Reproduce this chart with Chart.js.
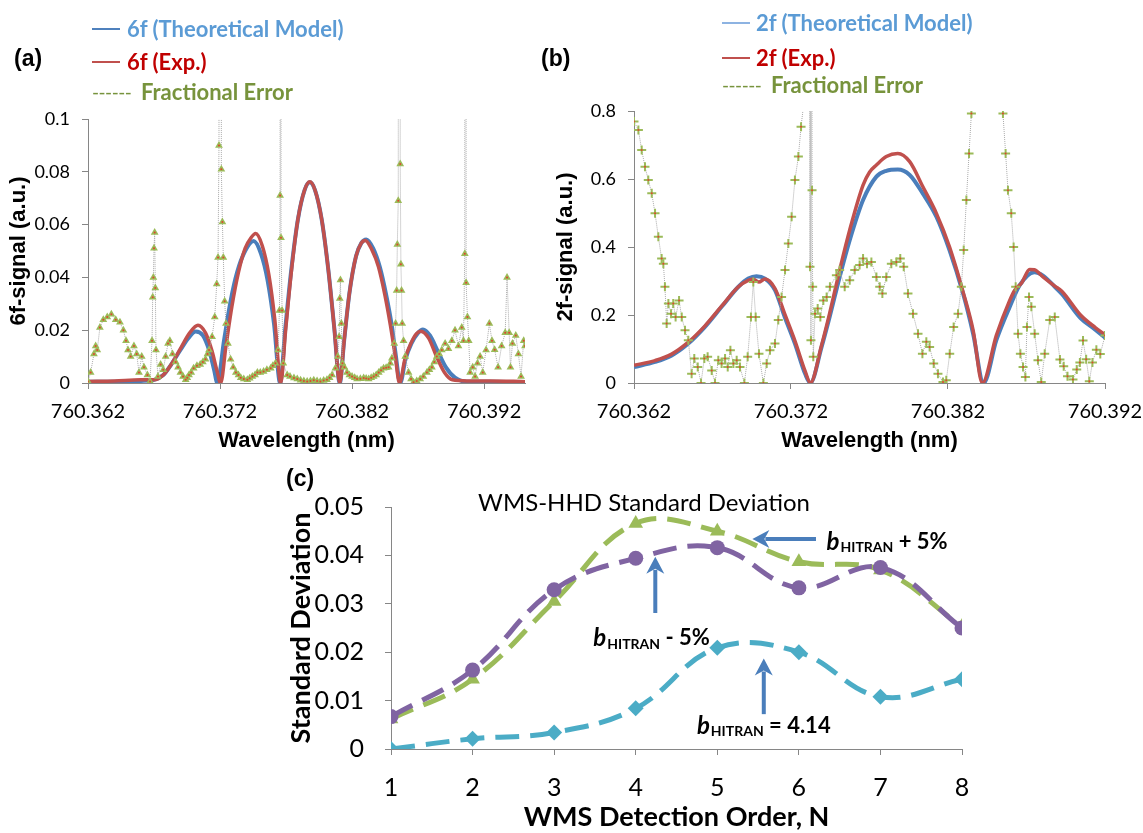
<!DOCTYPE html>
<html>
<head>
<meta charset="utf-8">
<script src="https://cdn.jsdelivr.net/npm/chart.js@4.4.1/dist/chart.umd.min.js"></script>
<style>
  body { margin: 0; background: #fff; width: 1143px; height: 833px; position: relative; overflow: hidden; font-family: Lato, sans-serif; }
  canvas { position: absolute; }
  .txt { position: absolute; white-space: nowrap; line-height: 24px; height: 24px; }
  .tag { font: bold 23px "Liberation Sans", Arial, sans-serif; color: #000; }
  .leg { font-weight: bold; font-size: 22px; }
  .dash { font-size: 19px; font-weight: normal; letter-spacing: -0.5px; }
  .swatch { position: absolute; height: 0; }
</style>
</head>
<body>
<canvas id="chartA" width="545" height="460" style="left:0;top:0"></canvas>
<canvas id="chartB" width="610" height="460" style="left:545px;top:0"></canvas>
<canvas id="chartC" width="740" height="378" style="left:270px;top:455px"></canvas>

<div class="txt tag" style="left:14px;top:45px">(a)</div>
<div class="swatch" style="left:92px;top:28px;width:28px;border-top:2.5px solid #4f81bd"></div>
<div class="txt leg" style="left:127px;top:17px;color:#5b9bd5">6f (Theoretical Model)</div>
<div class="swatch" style="left:92px;top:61px;width:28px;border-top:2.5px solid #c0504d"></div>
<div class="txt leg" style="left:127px;top:50px;color:#c00000">6f (Exp.)</div>
<div class="txt leg dash" style="left:92px;top:80px;color:#77933c">------</div>
<div class="txt leg" style="left:141px;top:80px;color:#77933c">Fractional Error</div>

<div class="txt tag" style="left:541px;top:45px">(b)</div>
<div class="swatch" style="left:722px;top:22px;width:28px;border-top:2px solid #8db3e2"></div>
<div class="txt leg" style="left:756px;top:11px;color:#5b9bd5">2f (Theoretical Model)</div>
<div class="swatch" style="left:722px;top:57px;width:28px;border-top:2.5px solid #c0504d"></div>
<div class="txt leg" style="left:756px;top:46px;color:#c00000">2f (Exp.)</div>
<div class="txt leg dash" style="left:722px;top:73px;color:#77933c">------</div>
<div class="txt leg" style="left:771px;top:73px;color:#77933c">Fractional Error</div>

<div class="txt tag" style="left:286px;top:465px">(c)</div>

<script>
// wavelength tick labels shared by panels (a) and (b)
const wavelengthTicks = [760.362, 760.372, 760.382, 760.392];

// panel (a): 6f signal, [wavelength nm, signal]
const theory6f = [
  [760.36200, 0.0005], [760.36400, 0.0005], [760.36600, 0.0008], [760.36700, 0.0012], [760.36770, 0.003],
  [760.36830, 0.007], [760.36900, 0.0125], [760.36960, 0.017], [760.37016, 0.0195], [760.37070, 0.018],
  [760.37120, 0.012], [760.37155, 0.005], [760.37180, 0],
  [760.37230, 0.016], [760.37280, 0.031], [760.37330, 0.042], [760.37390, 0.050], [760.37455, 0.0538],
  [760.37510, 0.049], [760.37560, 0.039], [760.37610, 0.022], [760.37655, 0],
  [760.37695, 0.021], [760.37740, 0.043], [760.37790, 0.062], [760.37840, 0.073], [760.37880, 0.076],
  [760.37920, 0.073], [760.37970, 0.062], [760.38020, 0.043], [760.38065, 0.021], [760.38107, 0],
  [760.38140, 0.016], [760.38180, 0.034], [760.38230, 0.048], [760.38270, 0.053], [760.38308, 0.0544],
  [760.38360, 0.051], [760.38410, 0.044], [760.38460, 0.033], [760.38500, 0.022], [760.38530, 0.011], [760.38565, 0],
  [760.38605, 0.009], [760.38650, 0.015], [760.38700, 0.019], [760.38737, 0.0203], [760.38790, 0.018],
  [760.38850, 0.012], [760.38910, 0.006], [760.38980, 0.002], [760.39070, 0.0005], [760.39250, 0.0005], [760.39510, 0.0003]
];
const exp6f = [
  [760.36200, 0.0006], [760.36400, 0.0008], [760.36600, 0.0012], [760.36700, 0.0012], [760.36770, 0.003],
  [760.36830, 0.007], [760.36900, 0.013], [760.36970, 0.019], [760.37033, 0.0219], [760.37090, 0.019],
  [760.37140, 0.012], [760.37175, 0.005], [760.37205, 0],
  [760.37245, 0.014], [760.37290, 0.029], [760.37340, 0.042], [760.37390, 0.051], [760.37435, 0.055],
  [760.37470, 0.0566], [760.37520, 0.052], [760.37570, 0.041], [760.37615, 0.024], [760.37660, 0],
  [760.37697, 0.020], [760.37740, 0.042], [760.37790, 0.062], [760.37840, 0.073], [760.37880, 0.0762],
  [760.37920, 0.073], [760.37970, 0.062], [760.38020, 0.043], [760.38065, 0.021], [760.38107, 0],
  [760.38140, 0.016], [760.38180, 0.034], [760.38230, 0.048], [760.38270, 0.053], [760.38300, 0.054],
  [760.38350, 0.0505], [760.38400, 0.044], [760.38450, 0.033], [760.38490, 0.022], [760.38525, 0.011], [760.38560, 0],
  [760.38600, 0.009], [760.38645, 0.015], [760.38690, 0.0188], [760.38720, 0.0196], [760.38780, 0.017],
  [760.38840, 0.010], [760.38900, 0.004], [760.38960, 0.0012], [760.39070, 0.0008], [760.39250, 0.0008], [760.39510, 0.0005]
];
const error6f = [
  [760.36200, 0.0006], [760.36220, 0.004], [760.36245, 0.011], [760.36258, 0.014], [760.36270, 0.0125],
  [760.36290, 0.021], [760.36316, 0.024], [760.36346, 0.025], [760.36377, 0.026], [760.36410, 0.024],
  [760.36442, 0.023], [760.36468, 0.020], [760.36488, 0.016], [760.36503, 0.0125], [760.36523, 0.010],
  [760.36548, 0.014], [760.36569, 0.011], [760.36586, 0.004], [760.36607, 0.010], [760.36624, 0.006],
  [760.36650, 0.003], [760.36670, 0.0006], [760.36685, 0.016], [760.36690, 0.0325], [760.36695, 0.040],
  [760.36700, 0.051], [760.36705, 0.057], [760.36710, 0.036], [760.36715, 0.0125], [760.36730, 0.0025],
  [760.36750, 0.007], [760.36770, 0.005], [760.36788, 0.010], [760.36806, 0.015], [760.36820, 0.016],
  [760.36840, 0.011], [760.36864, 0.008], [760.36882, 0.006], [760.36900, 0.004], [760.36920, 0.0025],
  [760.36940, 0.0012], [760.36952, 0.002], [760.36965, 0.003], [760.36982, 0.004], [760.37000, 0.0056],
  [760.37025, 0.0065], [760.37050, 0.007], [760.37070, 0.008], [760.37090, 0.009], [760.37105, 0.011],
  [760.37117, 0.0125], [760.37140, 0.0175],
  [760.37160, 0.025], [760.37175, 0.0375], [760.37185, 0.0475], [760.37192, 0.090], [760.37198, 1],
  [760.37204, 1], [760.37210, 0.081], [760.37218, 0.061], [760.37225, 0.0475], [760.37235, 0.031],
  [760.37245, 0.0225], [760.37260, 0.015], [760.37280, 0.009], [760.37300, 0.006], [760.37320, 0.004],
  [760.37340, 0.003], [760.37357, 0.002], [760.37380, 0.0015], [760.37407, 0.0012], [760.37425, 0.0018],
  [760.37445, 0.0025], [760.37465, 0.003], [760.37483, 0.004], [760.37505, 0.004], [760.37530, 0.0044],
  [760.37555, 0.005], [760.37584, 0.0056], [760.37600, 0.0065],
  [760.37620, 0.0075], [760.37640, 0.0125], [760.37650, 0.0275], [760.37655, 0.071], [760.37658, 1],
  [760.37662, 0.055], [760.37670, 0.0275], [760.37679, 0.0075], [760.37709, 0.003], [760.37730, 0.0025],
  [760.37760, 0.0019], [760.37785, 0.0015], [760.37810, 0.001], [760.37835, 0.0008], [760.37860, 0.0006],
  [760.37885, 0.0008], [760.37910, 0.001], [760.37935, 0.0008], [760.37960, 0.0006], [760.37985, 0.0009],
  [760.38010, 0.0012], [760.38030, 0.002],
  [760.38049, 0.003], [760.38074, 0.0056], [760.38092, 0.010], [760.38102, 0.0175], [760.38107, 0.032],
  [760.38112, 0.039], [760.38119, 0.0225], [760.38127, 0.0075], [760.38142, 0.006], [760.38162, 0.004],
  [760.38180, 0.003], [760.38200, 0.0025], [760.38220, 0.002], [760.38238, 0.0015], [760.38263, 0.0016],
  [760.38288, 0.0019], [760.38307, 0.0017], [760.38326, 0.0015], [760.38345, 0.002], [760.38364, 0.0025],
  [760.38383, 0.003], [760.38402, 0.004], [760.38420, 0.0048], [760.38439, 0.0056], [760.38458, 0.0058],
  [760.38477, 0.006], [760.38490, 0.0075], [760.38502, 0.0094], [760.38520, 0.015],
  [760.38530, 0.0225], [760.38538, 0.035], [760.38543, 0.0525], [760.38550, 0.069], [760.38558, 1],
  [760.38565, 0.083], [760.38570, 0.045], [760.38575, 0.035], [760.38580, 0.0225], [760.38590, 0.016],
  [760.38603, 0.010], [760.38628, 0.004], [760.38647, 0.0015], [760.38666, 0.0003], [760.38690, 0.0008],
  [760.38716, 0.0015], [760.38740, 0.0025], [760.38767, 0.004], [760.38786, 0.005],
  [760.38805, 0.006], [760.38823, 0.008], [760.38842, 0.010], [760.38860, 0.011], [760.38880, 0.0125],
  [760.38905, 0.015], [760.38930, 0.013],
  [760.38956, 0.016], [760.38980, 0.020], [760.39006, 0.014], [760.39031, 0.021], [760.39044, 0.016],
  [760.39054, 0.049], [760.39059, 1], [760.39064, 0.038], [760.39074, 0.025], [760.39084, 0.016],
  [760.39094, 0.004], [760.39114, 0.006], [760.39132, 0.0025], [760.39150, 0.0075], [760.39170, 0.010],
  [760.39190, 0.004], [760.39215, 0.0125], [760.39240, 0.0225], [760.39260, 0.016], [760.39280, 0.0126],
  [760.39306, 0.006], [760.39333, 0.014], [760.39360, 0.019], [760.39374, 0.040], [760.39390, 0.019],
  [760.39400, 0.006], [760.39415, 0.015], [760.39440, 0.018], [760.39460, 0.011], [760.39480, 0.0025],
  [760.39500, 0.016], [760.39510, 0.014]
];

// panel (b): 2f signal, [wavelength nm, signal]
const theory2f = [
  [760.36200, 0.047], [760.36334, 0.062], [760.36440, 0.081], [760.36546, 0.116], [760.36652, 0.165],
  [760.36758, 0.224], [760.36865, 0.283], [760.36928, 0.307], [760.36980, 0.314], [760.37034, 0.307],
  [760.37098, 0.273], [760.37160, 0.194], [760.37225, 0.116], [760.37290, 0.027], [760.37323, 0],
  [760.37395, 0.106], [760.37446, 0.194], [760.37510, 0.312], [760.37574, 0.420], [760.37659, 0.538],
  [760.37744, 0.607], [760.37807, 0.624], [760.37880, 0.628], [760.37956, 0.612], [760.38040, 0.557],
  [760.38126, 0.489], [760.38210, 0.390], [760.38296, 0.263], [760.38360, 0.145], [760.38427, 0],
  [760.38508, 0.126], [760.38593, 0.224], [760.38657, 0.288], [760.38750, 0.326], [760.38805, 0.316],
  [760.38880, 0.283], [760.38925, 0.262], [760.39044, 0.191], [760.39138, 0.157], [760.39200, 0.133]
];
const exp2f = [
  [760.36200, 0.052], [760.36334, 0.066], [760.36440, 0.085], [760.36546, 0.120], [760.36652, 0.168],
  [760.36758, 0.226], [760.36865, 0.283], [760.36928, 0.302], [760.36960, 0.305], [760.36995, 0.297],
  [760.37035, 0.306], [760.37098, 0.278], [760.37160, 0.203], [760.37225, 0.124], [760.37290, 0.035], [760.37323, 0],
  [760.37395, 0.112], [760.37446, 0.205], [760.37510, 0.332], [760.37574, 0.450], [760.37659, 0.582],
  [760.37700, 0.620], [760.37744, 0.641], [760.37807, 0.666], [760.37880, 0.675], [760.37956, 0.651],
  [760.38040, 0.577], [760.38126, 0.499], [760.38210, 0.400], [760.38296, 0.268], [760.38360, 0.155], [760.38419, 0],
  [760.38508, 0.140], [760.38593, 0.243], [760.38625, 0.273], [760.38670, 0.295], [760.38720, 0.334],
  [760.38750, 0.333], [760.38805, 0.312], [760.38880, 0.285], [760.38925, 0.270], [760.39044, 0.200],
  [760.39138, 0.163], [760.39200, 0.142]
];
const error2f = [
  [760.36200, 0.769], [760.36228, 0.744], [760.36249, 0.685], [760.36270, 0.636], [760.36291, 0.597],
  [760.36313, 0.558], [760.36334, 0.499], [760.36355, 0.430], [760.36376, 0.366], [760.36387, 0.351],
  [760.36397, 0.283], [760.36408, 0.175], [760.36419, 0.234], [760.36436, 0.204], [760.36450, 0.234],
  [760.36465, 0.194], [760.36487, 0.243], [760.36504, 0.194], [760.36525, 0.155], [760.36546, 0.126],
  [760.36567, 0.027], [760.36584, 0.072], [760.36606, 0.047], [760.36627, 0], [760.36648, 0.072],
  [760.36669, 0.077], [760.36695, 0.037], [760.36716, 0], [760.36737, 0.067], [760.36758, 0.057],
  [760.36780, 0.072], [760.36797, 0.047], [760.36814, 0.096], [760.36833, 0.057], [760.36854, 0.067],
  [760.36875, 0.047], [760.36903, 0], [760.36924, 0.077], [760.36945, 0.194], [760.36960, 0.297],
  [760.36975, 0.194], [760.36996, 0.086], [760.37024, 0], [760.37045, 0.057], [760.37066, 0.096],
  [760.37098, 0.116], [760.37119, 0.185], [760.37140, 0.253], [760.37162, 0.332], [760.37183, 0.410],
  [760.37204, 0.489], [760.37225, 0.597], [760.37247, 0.666], [760.37264, 0.754], [760.37279, 0.813],
  [760.37295, 1.2], [760.37315, 5], [760.37321, 0.342], [760.37324, 5], [760.37327, 0.126],
  [760.37330, 5], [760.37334, 0.567], [760.37338, 0.283], [760.37342, 0.077], [760.37353, 0.204],
  [760.37370, 0.219], [760.37387, 0.194], [760.37406, 0.243], [760.37427, 0.253], [760.37448, 0.283],
  [760.37489, 0.317], [760.37510, 0.332], [760.37542, 0.283], [760.37574, 0.302], [760.37606, 0.332],
  [760.37637, 0.347], [760.37659, 0.366], [760.37684, 0.351], [760.37712, 0.356], [760.37744, 0.312],
  [760.37765, 0.283], [760.37782, 0.263], [760.37807, 0.312], [760.37839, 0.351], [760.37871, 0.356],
  [760.37896, 0.366], [760.37918, 0.342], [760.37945, 0.263], [760.37977, 0.204], [760.38009, 0.145],
  [760.38037, 0.086], [760.38062, 0.121], [760.38083, 0.106], [760.38109, 0.057], [760.38136, 0.027],
  [760.38168, 0.003], [760.38189, 0.008], [760.38211, 0.086], [760.38236, 0.165], [760.38264, 0.204],
  [760.38285, 0.283], [760.38300, 0.391], [760.38317, 0.538], [760.38334, 0.675], [760.38349, 0.793],
  [760.38360, 0.86], [760.38545, 0.86], [760.38550, 0.793], [760.38567, 0.675], [760.38582, 0.567],
  [760.38603, 0.499], [760.38618, 0.400], [760.38631, 0.283], [760.38646, 0.145], [760.38661, 0.086],
  [760.38678, 0.047], [760.38693, 0.018], [760.38703, 0.165], [760.38716, 0.253], [760.38731, 0.224],
  [760.38752, 0.145], [760.38773, 0.067], [760.38794, 0.003], [760.38816, 0.086], [760.38848, 0.185],
  [760.38880, 0.194], [760.38913, 0.069], [760.38937, 0.049], [760.38961, 0.020], [760.38996, 0.010],
  [760.39020, 0.040], [760.39040, 0.060], [760.39060, 0.125], [760.39080, 0.070], [760.39100, 0.005],
  [760.39120, 0.060], [760.39145, 0.098], [760.39170, 0.085], [760.39200, 0.140]
];

// panel (c): standard deviation vs detection order
const detectionOrders = [1, 2, 3, 4, 5, 6, 7, 8];
const sdHitran = [0, 0.0021, 0.0034, 0.0084, 0.0209, 0.0200, 0.0108, 0.0144];
const sdMinus5 = [0.0067, 0.0163, 0.0329, 0.0394, 0.0416, 0.0333, 0.0375, 0.0250];
const sdPlus5 = [0.0062, 0.0144, 0.0305, 0.0466, 0.0450, 0.0387, 0.0370, 0.0253];

Chart.defaults.font.family = "Lato";
Chart.defaults.color = "#000";

const axisGray = "#868686";
const toPoints = (pairs) => pairs.map(([x, y]) => ({ x, y }));

function wavelengthAxis(max) {
    return {
        type: "linear",
        min: 760.362,
        max: max,
        afterBuildTicks: (scale) => { scale.ticks = wavelengthTicks.map((value) => ({ value })); },
        afterFit: (scale) => { scale.height = 77; },
        ticks: {
            font: { size: 20 },
            padding: 11,
            maxRotation: 0,
            autoSkip: false,
            callback: (v) => v.toFixed(3),
        },
        grid: { drawOnChartArea: false, tickLength: 6, color: axisGray },
        border: { color: axisGray },
        title: {
            display: true,
            text: "Wavelength (nm)",
            font: { family: "Liberation Sans", weight: "bold", size: 22 },
            padding: { top: 0, bottom: 6 },
        },
    };
}

function signalAxis(max, step, titleText, width, titlePad) {
    return {
        min: 0,
        max: max,
        afterFit: (scale) => { scale.width = width; },
        ticks: {
            stepSize: step,
            font: { size: 18 },
            padding: 12,
            callback: (v) => String(Number(v.toFixed(2))),
        },
        grid: { drawOnChartArea: false, tickLength: 6, color: axisGray },
        border: { color: axisGray },
        title: {
            display: true,
            text: titleText,
            font: { family: "Liberation Sans", weight: "bold", size: 22 },
            padding: { top: titlePad, bottom: 0 },
        },
    };
}

function errorSets(pairs, style, radius, width) {
    const points = toPoints(pairs);
    return [
        {
            data: points,
            showLine: false,
            pointRadius: 1,
            pointBackgroundColor: "#e0452f",
            pointBorderWidth: 0,
        },
        {
            data: points,
            borderColor: "#a9a9a9",
            borderWidth: 1,
            borderDash: [1, 1],
            tension: 0,
            pointStyle: style,
            pointRadius: radius,
            pointBackgroundColor: "#9bbb59",
            pointBorderColor: "#9bbb59",
            pointBorderWidth: width,
        },
    ];
}

function signalSet(pairs, color, width) {
    return {
        data: toPoints(pairs),
        borderColor: color,
        borderWidth: width,
        pointRadius: 0,
        cubicInterpolationMode: "monotone",
        tension: 0.4,
    };
}

const baseOptions = {
    responsive: false,
    animation: false,
    devicePixelRatio: 1,
    plugins: { legend: { display: false }, tooltip: { enabled: false } },
};

new Chart(document.getElementById("chartA"), {
    type: "line",
    data: {
        datasets: [
            ...errorSets(error6f, "triangle", 4.5, 0),
            signalSet(exp6f, "#c0504d", 3.5),
            signalSet(theory6f, "#4a7ebb", 4),
        ],
    },
    options: {
        ...baseOptions,
        layout: { padding: { left: 0, top: 119, right: 20, bottom: 0 } },
        scales: {
            x: wavelengthAxis(760.3951),
            y: signalAxis(0.1, 0.02, "6f-signal (a.u.)", 88, 6),
        },
    },
});

new Chart(document.getElementById("chartB"), {
    type: "line",
    data: {
        datasets: [
            ...errorSets(error2f, "cross", 4.5, 2),
            signalSet(exp2f, "#c0504d", 3.5),
            signalSet(theory2f, "#4a7ebb", 4),
        ],
    },
    options: {
        ...baseOptions,
        layout: { padding: { left: 0, top: 111, right: 50, bottom: 0 } },
        scales: {
            x: wavelengthAxis(760.392),
            y: signalAxis(0.8, 0.2, "2f-signal (a.u.)", 89, 8),
        },
    },
});

// arrows and labels of panel (c), placed in data units
const calloutArrows = [
    { from: [6.21, 0.0434], to: [5.43, 0.0434] },
    { from: [4.24, 0.0281], to: [4.24, 0.0397] },
    { from: [5.57, 0.0072], to: [5.57, 0.0187] },
];
const calloutLabels = [
    { at: [6.34, 0.0428], rest: " + 5%" },
    { at: [3.48, 0.0229], rest: " - 5%" },
    { at: [4.75, 0.0048], rest: " = 4.14" },
];

function drawArrow(ctx, x1, y1, x2, y2) {
    const ang = Math.atan2(y2 - y1, x2 - x1);
    const head = 17;
    const half = 9;
    const bx = x2 - head * Math.cos(ang);
    const by = y2 - head * Math.sin(ang);
    ctx.strokeStyle = "#4a7ebb";
    ctx.fillStyle = "#4a7ebb";
    ctx.lineWidth = 4;
    ctx.beginPath();
    ctx.moveTo(x1, y1);
    ctx.lineTo(bx + 4 * Math.cos(ang), by + 4 * Math.sin(ang));
    ctx.stroke();
    ctx.beginPath();
    ctx.moveTo(x2, y2);
    ctx.lineTo(bx + half * Math.sin(ang), by - half * Math.cos(ang));
    ctx.lineTo(bx + 5 * Math.cos(ang), by + 5 * Math.sin(ang));
    ctx.lineTo(bx - half * Math.sin(ang), by + half * Math.cos(ang));
    ctx.closePath();
    ctx.fill();
}

const calloutPlugin = {
    id: "callouts",
    afterDatasetsDraw(chart) {
        const { ctx, chartArea, scales: { x, y } } = chart;
        ctx.save();
        calloutArrows.forEach((a) => {
            drawArrow(ctx,
                x.getPixelForValue(a.from[0]), y.getPixelForValue(a.from[1]),
                x.getPixelForValue(a.to[0]), y.getPixelForValue(a.to[1]));
        });
        ctx.fillStyle = "#000";
        ctx.textBaseline = "middle";
        ctx.textAlign = "left";
        calloutLabels.forEach((l) => {
            let px = x.getPixelForValue(l.at[0]);
            const py = y.getPixelForValue(l.at[1]);
            ctx.font = "italic bold 24px Lato";
            ctx.fillText("b", px, py);
            px += ctx.measureText("b").width + 1;
            ctx.font = "bold 14px Lato";
            ctx.fillText("HITRAN", px, py + 6);
            px += ctx.measureText("HITRAN").width;
            ctx.font = "bold 22px Lato";
            ctx.fillText(l.rest, px, py);
        });
        ctx.font = "24px Lato";
        ctx.textAlign = "center";
        ctx.fillText("WMS-HHD Standard Deviation", chartArea.left + 253, chartArea.top - 4);
        ctx.restore();
    },
};

function sdSet(values, color, style, radius) {
    return {
        data: detectionOrders.map((n, i) => ({ x: n, y: values[i] })),
        borderColor: color,
        borderWidth: 5,
        borderDash: [24, 11],
        tension: 0.4,
        pointStyle: style,
        pointRadius: radius,
        pointBackgroundColor: color,
        pointBorderColor: color,
        pointBorderWidth: 0,
    };
}

new Chart(document.getElementById("chartC"), {
    type: "line",
    data: {
        datasets: [
            sdSet(sdMinus5, "#8064a2", "circle", 7.5),
            sdSet(sdPlus5, "#9bbb59", "triangle", 8.5),
            sdSet(sdHitran, "#4bacc6", "rectRot", 8),
        ],
    },
    options: {
        ...baseOptions,
        layout: { padding: { left: 0, top: 52, right: 48, bottom: 0 } },
        scales: {
            x: {
                type: "linear",
                min: 1,
                max: 8,
                afterBuildTicks: (scale) => { scale.ticks = detectionOrders.map((value) => ({ value })); },
                afterFit: (scale) => { scale.height = 84; },
                ticks: { font: { size: 25 }, padding: 18, maxRotation: 0, autoSkip: false },
                grid: { drawOnChartArea: false, tickLength: 6, color: axisGray },
                border: { color: axisGray },
                title: {
                    display: true,
                    text: "WMS Detection Order, N",
                    font: { weight: "bold", size: 27 },
                    padding: { top: 0, bottom: 0 },
                },
            },
            y: {
                min: 0,
                max: 0.05,
                afterFit: (scale) => { scale.width = 121; },
                ticks: {
                    stepSize: 0.01,
                    font: { size: 25 },
                    padding: 21,
                    callback: (v) => String(Number(v.toFixed(2))),
                },
                grid: { drawOnChartArea: false, tickLength: 6, color: axisGray },
                border: { color: axisGray },
                title: {
                    display: true,
                    text: "Standard Deviation",
                    font: { weight: "bold", size: 27 },
                    padding: { top: 15, bottom: 0 },
                },
            },
        },
    },
    plugins: [calloutPlugin],
});
</script>
</body>
</html>
